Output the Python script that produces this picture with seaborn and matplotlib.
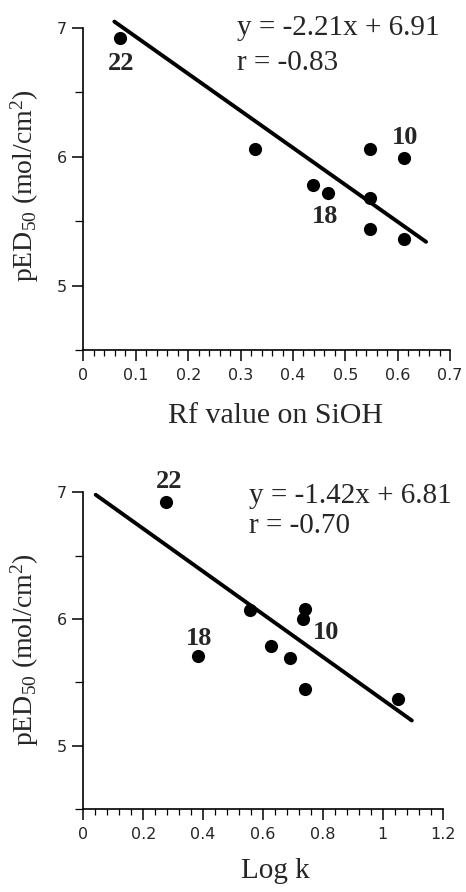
import matplotlib
matplotlib.use("Agg")
import matplotlib.pyplot as plt
from matplotlib.ticker import MultipleLocator
import seaborn as sns

# data
rf_x = [0.069, 0.328, 0.439, 0.466, 0.547, 0.547, 0.547, 0.611, 0.611]
rf_y = [6.92, 6.06, 5.78, 5.72, 6.06, 5.68, 5.44, 5.99, 5.36]
rf_fit_x = [0.059, 0.654]
rf_fit_y = [7.05, 5.34]
rf_ticks = [0, 0.1, 0.2, 0.3, 0.4, 0.5, 0.6, 0.7]
rf_ticklabels = ["0", "0.1", "0.2", "0.3", "0.4", "0.5", "0.6", "0.7"]

logk_x = [0.275, 0.383, 0.557, 0.626, 0.689, 0.741, 0.735, 0.741, 1.052]
logk_y = [6.92, 5.71, 6.07, 5.79, 5.69, 6.08, 6.00, 5.45, 5.37]
logk_fit_x = [0.041, 1.097]
logk_fit_y = [6.98, 5.20]
logk_ticks = [0, 0.2, 0.4, 0.6, 0.8, 1.0, 1.2]
logk_ticklabels = ["0", "0.2", "0.4", "0.6", "0.8", "1", "1.2"]

y_ticks = [5, 6, 7]

# labelled compounds: (name, x, y)
rf_labels = [("22", 0.069, 6.92), ("18", 0.466, 5.72), ("10", 0.611, 5.99)]
logk_labels = [("22", 0.275, 6.92), ("18", 0.383, 5.71), ("10", 0.735, 6.00)]

sns.set_style("ticks")
plt.rcParams["font.family"] = ["Liberation Serif", "DejaVu Serif"]
plt.rcParams["mathtext.fontset"] = "custom"
plt.rcParams["mathtext.rm"] = "Liberation Serif"
plt.rcParams["mathtext.it"] = "Liberation Serif:italic"

fig = plt.figure(figsize=(4.66, 8.92), dpi=100)
ax1 = fig.add_axes([0.179, 0.6076, 0.787, 0.361])
ax2 = fig.add_axes([0.179, 0.0927, 0.771, 0.3555])


def style_axes(ax, ticks, ticklabels, xmax):
    ax.set_xlim(0, xmax)
    ax.set_ylim(4.5, 7)
    ax.set_xticks(ticks)
    ax.set_xticklabels(ticklabels, family="DejaVu Sans", fontsize=11.5)
    ax.set_yticks(y_ticks)
    ax.set_yticklabels([str(t) for t in y_ticks], family="DejaVu Sans", fontsize=11.5)
    ax.xaxis.set_minor_locator(MultipleLocator(ticks[1] / 5))
    ax.yaxis.set_minor_locator(MultipleLocator(0.5))
    ax.tick_params(axis="both", which="major", direction="out", length=8, width=1.1, color="black")
    ax.tick_params(axis="x", which="minor", direction="out", length=4, width=0.9, color="black")
    ax.tick_params(axis="y", which="minor", direction="out", length=6, width=0.9, color="black")
    ax.tick_params(axis="x", which="major", pad=5)
    ax.tick_params(axis="y", which="major", pad=4)
    for side in ["left", "bottom"]:
        ax.spines[side].set_linewidth(1.2)
        ax.spines[side].set_color("black")
    sns.despine(ax=ax)
    ax.set_ylabel(r"pED$_{50}$ (mol/cm$^2$)", fontsize=20)


# top panel
sns.scatterplot(x=rf_x, y=rf_y, ax=ax1, color="black", s=90, edgecolor="black", linewidth=0, zorder=3)
sns.lineplot(x=rf_fit_x, y=rf_fit_y, ax=ax1, color="black", linewidth=2.8, clip_on=False)
style_axes(ax1, rf_ticks, rf_ticklabels, 0.7)
ax1.set_xlabel("Rf value on SiOH", fontsize=21.5)
ax1.xaxis.set_label_coords(0.524, -0.165)
ax1.yaxis.set_label_coords(-0.115, 0.509)
ax1.text(0.419, 0.977, "y = -2.21x + 6.91", transform=ax1.transAxes, fontsize=21, va="baseline")
ax1.text(0.419, 0.869, "r = -0.83", transform=ax1.transAxes, fontsize=21, va="baseline")
offsets1 = [(2, -25), (-2, -24), (2, 21)]
for (name, x, y), off in zip(rf_labels, offsets1):
    ax1.annotate(name, (x, y), xytext=off, textcoords="offset pixels", ha="center", va="center",
                 fontsize=19, fontweight="bold")

# bottom panel
sns.scatterplot(x=logk_x, y=logk_y, ax=ax2, color="black", s=90, edgecolor="black", linewidth=0, zorder=3)
sns.lineplot(x=logk_fit_x, y=logk_fit_y, ax=ax2, color="black", linewidth=2.8, clip_on=False)
style_axes(ax2, logk_ticks, logk_ticklabels, 1.2)
ax2.set_xlabel("Log k", fontsize=21)
ax2.xaxis.set_label_coords(0.533, -0.155)
ax2.yaxis.set_label_coords(-0.118, 0.503)
ax2.text(0.461, 0.966, "y = -1.42x + 6.81", transform=ax2.transAxes, fontsize=21, va="baseline")
ax2.text(0.461, 0.872, "r = -0.70", transform=ax2.transAxes, fontsize=21, va="baseline")
offsets2 = [(3, 21), (1, 17), (23, -13)]
for (name, x, y), off in zip(logk_labels, offsets2):
    ax2.annotate(name, (x, y), xytext=off, textcoords="offset pixels", ha="center", va="center",
                 fontsize=19, fontweight="bold")

fig.savefig("out.png", dpi=100)
